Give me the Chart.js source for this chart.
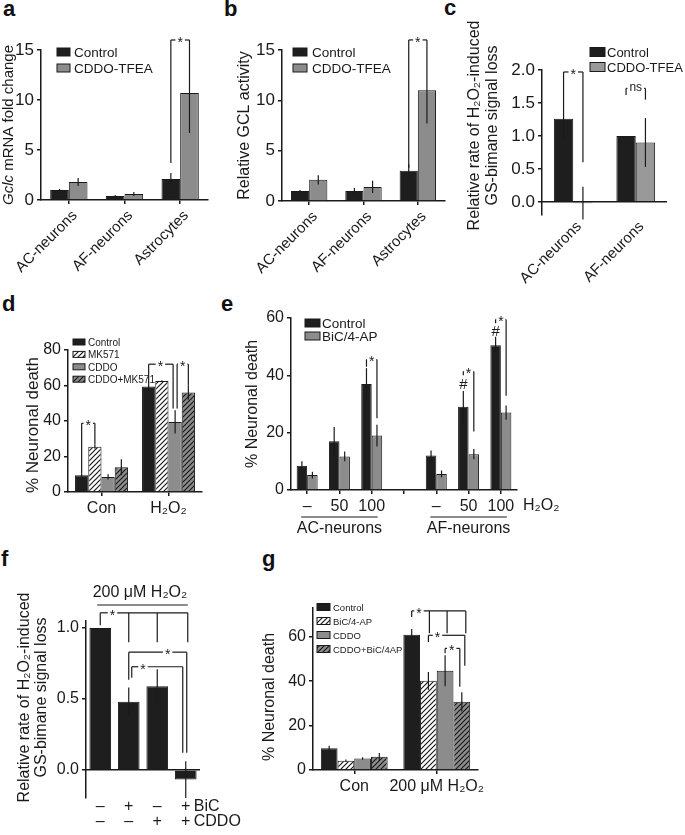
<!DOCTYPE html>
<html>
<head>
<meta charset="utf-8">
<script src="https://cdn.jsdelivr.net/npm/chart.js@4.4.1/dist/chart.umd.min.js"></script>
<style>
  body { margin: 0; background: #fff; font-family: "Liberation Sans", Arial, sans-serif; }
  #page { position: relative; width: 685px; height: 835px; overflow: hidden; }
  canvas { position: absolute; }
  .tag { position: absolute; font-weight: bold; font-size: 22px; line-height: 22px; color: #111; }
</style>
</head>
<body>
<div id="page">
  <div class="tag" style="left:3px;top:-2px">a</div>
  <div class="tag" style="left:224px;top:-2px">b</div>
  <div class="tag" style="left:444px;top:-3px">c</div>
  <div class="tag" style="left:2px;top:293px">d</div>
  <div class="tag" style="left:221px;top:293px">e</div>
  <div class="tag" style="left:1px;top:548px">f</div>
  <div class="tag" style="left:262px;top:548px">g</div>
  <canvas id="ca"></canvas>
  <canvas id="cb"></canvas>
  <canvas id="cc"></canvas>
  <canvas id="cd"></canvas>
  <canvas id="ce"></canvas>
  <canvas id="cf"></canvas>
  <canvas id="cg"></canvas>
</div>
<script>
// ---- data ----
// a: Gclc mRNA fold change
const cellTypes = ["AC-neurons", "AF-neurons", "Astrocytes"];
const mrnaControl = [1.0, 0.4, 2.1];
const mrnaControlErr = [0.1, 0.1, 0.6];
const mrnaCddo = [1.8, 0.6, 10.7];
const mrnaCddoErr = [0.4, 0.2, 4.0];

// b: relative GCL activity
const gclControl = [1.0, 1.0, 3.0];
const gclControlErr = [0.1, 0.3, 0.65];
const gclCddo = [2.1, 1.4, 11.0];
const gclCddoErr = [0.45, 0.6, 3.3];

// c: H2O2-induced GS-bimane signal loss in neurons
const neuronTypes = ["AC-neurons", "AF-neurons"];
const lossControl = [1.26, 1.0];
const lossControlErr = [0.3, 0];
const lossCddo = [-0.02, 0.9];
const lossCddoErr = [0.25, 0.37];
const lossTicks = [0, 0.5, 1.0, 1.5, 2.0];

// d: neuronal death with MK571
const dConditions = ["Con", "H₂O₂"];
const dControl = [9.5, 59.5];
const dControlErr = [1, 2.5];
const dMk = [25.5, 62.5];
const dMkErr = [1.2, 0.5];
const dCddo = [8.5, 39.5];
const dCddoErr = [1.5, 6.5];
const dCddoMk = [14, 56];
const dCddoMkErr = [4.5, 4];

// e: neuronal death vs H2O2 dose
const eDoses = ["–", "50", "100", "", "–", "50", "100"];
const eGroups = [["AC-neurons", 0, 2], ["AF-neurons", 4, 6]];
const eControl = [8.5, 17, 37, null, 12, 29, 50.5];
const eControlErr = [1.5, 5, 5.5, null, 1.75, 5.5, 3];
const eBic = [5.2, 11.7, 19, null, 5.6, 12.5, 27];
const eBicErr = [1.2, 1.7, 3.8, null, 1.2, 1.8, 2.5];
const eMarks = [[5, 0, 36.6, "#"], [6, 0, 55.2, "#"]];

// f: signal loss at 200 uM H2O2
const fBic = ["–", "+", "–", "+"];
const fCddo = ["–", "–", "+", "+"];
const fLoss = [1.0, 0.48, 0.59, -0.07];
const fLossErr = [0, 0.1, 0.12, 0.13];
const fTicks = [0, 0.5, 1.0];

// g: neuronal death with BiC/4-AP
const gConditions = ["Con", "200 μM H₂O₂"];
const gControl = [9.75, 61];
const gControlErr = [1.2, 2.5];
const gBic = [4.2, 40.2];
const gBicErr = [0.5, 4];
const gCddo = [5.2, 44.7];
const gCddoErr = [0.6, 7];
const gCddoBic = [6, 30.7];
const gCddoBicErr = [1.7, 4.3];

// significance brackets: drops are [category, dataset, value, dx]
const mrnaBrackets = [{ drops: [[2, 0, 3.7], [2, 1, 14.7]], top: 16, at: 0.5, text: "*" }];
const gclBrackets = [{ drops: [[2, 0, 3.3], [2, 1, 14.3]], top: 16, at: 0.5, text: "*" }];
const lossBrackets = [
  { drops: [[0, 0, 1.56], [0, 1, 0.6]], top: 1.97, at: 0.5, text: "*" },
  { drops: [[1, 0, 1.62], [1, 1, 1.55]], top: 1.72, at: 0.5, text: "ns" }
];
const dBrackets = [
  { drops: [[0, 0, 10.6], [0, 1, 26.7]], top: 38.7, at: 0.5, text: "*" },
  { drops: [[1, 0, 61.5], [1, 2, 47, -2]], top: 72, at: 0.48, text: "*" },
  { drops: [[1, 2, 47, 2], [1, 3, 60]], top: 72, at: 0.5, text: "*" }
];
const eBrackets = [
  { drops: [[2, 0, 43], [2, 1, 25]], top: 45.5, at: 0.5, text: "*" },
  { drops: [[5, 0, 40], [5, 1, 20.4]], top: 41.3, at: 0.5, text: "*" },
  { drops: [[6, 0, 58.2], [6, 1, 32.9]], top: 59.5, at: 0.5, text: "*" }
];
const fBrackets = [
  { drops: [[0, 0, 1.02], [1, 0, 0.9], [2, 0, 0.9], [3, 0, 0.9, 2]], top: 1.108, at: 0.14, text: "*" },
  { drops: [[1, 0, 0.635], [3, 0, 0.12, 1]], top: 0.83, at: 0.67, text: "*" },
  { drops: [[1, 0, 0.65, 3], [3, 0, 0.12, -3]], top: 0.727, at: 0.22, text: "*" }
];
const gBrackets = [
  { drops: [[1, 0, 69], [1, 1, 61.6, 1], [1, 2, 61.6, 2], [1, 3, 61.6, 4]], top: 71.7, at: 0.135, text: "*" },
  { drops: [[1, 1, 57.7], [1, 3, 47, 3]], top: 60.7, at: 0.25, text: "*" },
  { drops: [[1, 2, 52.6], [1, 3, 37.5, -2]], top: 54.8, at: 0.45, text: "*" }
];

// ---- styles ----
const face = "'Liberation Sans', Arial, sans-serif";
const ink = "#1a1a1a";
const black = "#1e1e1e";
const gray = "#8c8c8c";

// diagonal hatch fill
function hatch(bg) {
  const c = document.createElement("canvas");
  c.width = c.height = 5;
  const g = c.getContext("2d");
  g.fillStyle = bg;
  g.fillRect(0, 0, 5, 5);
  g.strokeStyle = ink;
  g.lineWidth = 1.2;
  g.beginPath();
  g.moveTo(0, 5); g.lineTo(5, 0);
  g.moveTo(-1, 1); g.lineTo(1, -1);
  g.moveTo(4, 6); g.lineTo(6, 4);
  g.stroke();
  return g.createPattern(c, "repeat");
}
const whiteHatch = hatch("#ffffff");
const grayHatch = hatch(gray);

function line(ctx, x0, y0, x1, y1) {
  ctx.beginPath();
  ctx.moveTo(x0, y0);
  ctx.lineTo(x1, y1);
  ctx.stroke();
}

// extra drawing for each canvas (error bars, brackets, legend, axis titles)
const extras = {};

const extraPlugin = {
  id: "extras",
  afterDatasetsDraw(chart) {
    const ex = extras[chart.canvas.id];
    if (!ex) return;
    const ctx = chart.ctx, y = chart.scales.y, area = chart.chartArea;
    ctx.save();
    ctx.strokeStyle = ink;
    ctx.fillStyle = ink;

    // x axis drawn at zero when the y range goes negative
    if (ex.zeroLine) {
      ctx.lineWidth = 1.5;
      const y0 = y.getPixelForValue(0);
      line(ctx, area.left, y0, area.right, y0);
    }

    // error bars
    ctx.lineWidth = 1.2;
    ex.errors.forEach((errs, d) => {
      const meta = chart.getDatasetMeta(d);
      chart.data.datasets[d].data.forEach((v, i) => {
        if (v == null || !errs[i]) return;
        const x = meta.data[i].x;
        line(ctx, x, y.getPixelForValue(v - errs[i]), x, y.getPixelForValue(v + errs[i]));
      });
    });

    // significance brackets
    (ex.brackets || []).forEach(b => {
      const xs = b.drops.map(([c, d, v, dx]) => chart.getDatasetMeta(d).data[c].x + (dx || 0));
      const top = y.getPixelForValue(b.top);
      b.drops.forEach(([c, d, v], k) => line(ctx, xs[k], y.getPixelForValue(v), xs[k], top));
      const x0 = xs[0], x1 = xs[xs.length - 1];
      const sx = x0 + (x1 - x0) * b.at;
      ctx.font = (b.text === "ns" ? "12px " : "14px ") + face;
      const gap = ctx.measureText(b.text).width / 2 + 2;
      line(ctx, x0, top, sx - gap, top);
      line(ctx, sx + gap, top, x1, top);
      ctx.textAlign = "center";
      ctx.textBaseline = "middle";
      ctx.fillText(b.text, sx, b.text === "ns" ? top - 1 : top + 3);
    });

    // legend
    if (ex.legend) {
      const L = ex.legend;
      ctx.font = L.size + "px " + face;
      ctx.textAlign = "left";
      ctx.textBaseline = "middle";
      ctx.lineWidth = 1;
      chart.data.datasets.forEach((ds, d) => {
        const bx = area.left + L.x, by = area.top + L.y + d * L.dy;
        ctx.fillStyle = ds.backgroundColor;
        ctx.fillRect(bx, by - L.h / 2, L.w, L.h);
        ctx.strokeRect(bx, by - L.h / 2, L.w, L.h);
        ctx.fillStyle = ink;
        ctx.fillText(ds.label, bx + L.w + L.gap, by + 1);
      });
    }

    // rotated y title (with italic parts)
    if (ex.title) {
      const T = ex.title;
      const cy = (area.top + area.bottom) / 2 + (T.dy || 0);
      T.lines.forEach(ln => {
        ctx.save();
        ctx.translate(area.left + ln.dx, cy);
        ctx.rotate(-Math.PI / 2);
        ctx.textAlign = "left";
        ctx.textBaseline = "middle";
        const fonts = ln.parts.map(p => (p[1] ? "italic " : "") + T.size + "px " + face);
        let w = 0;
        ln.parts.forEach((p, k) => { ctx.font = fonts[k]; w += ctx.measureText(p[0]).width; });
        let px = -w / 2;
        ln.parts.forEach((p, k) => {
          ctx.font = fonts[k];
          ctx.fillText(p[0], px, 0);
          px += ctx.measureText(p[0]).width;
        });
        ctx.restore();
      });
    }

    if (ex.draw) ex.draw(chart, ctx);
    ctx.restore();
  }
};

function bars(label, data, color, cat) {
  return {
    label, data,
    backgroundColor: color,
    borderColor: ink,
    borderWidth: 1,
    barPercentage: 1,
    categoryPercentage: cat
  };
}

function yAxis(min, max, size, width, tickValues, fmt) {
  return {
    min, max,
    afterFit: s => { s.width = width; },
    afterBuildTicks: s => { s.ticks = tickValues.map(v => ({ value: v })); },
    border: { color: ink, width: 1.5 },
    grid: { drawOnChartArea: false, drawTicks: true, tickLength: 4, color: ink, lineWidth: 1.5 },
    ticks: {
      color: ink, padding: 3,
      font: { size, family: face },
      callback: v => fmt ? v.toFixed(1) : v
    }
  };
}

function xAxis(height, size, rotation, showAxis, showLabels) {
  return {
    type: "category",
    offset: true,
    afterFit: s => { s.height = height; },
    border: { display: showAxis, color: ink, width: 1.5 },
    grid: { drawOnChartArea: false, drawTicks: showAxis, offset: false, tickLength: 4, color: ink, lineWidth: 1.5 },
    ticks: {
      display: showLabels,
      color: ink, padding: 3, autoSkip: false,
      maxRotation: rotation, minRotation: rotation,
      labelOffset: rotation ? 6 : 0,
      font: { size, family: face }
    }
  };
}

// box = [left, top, width, height] on the page; pad = [top, right]
function makeChart(id, box, pad, labels, datasets, x, y) {
  const cv = document.getElementById(id);
  cv.width = box[2];
  cv.height = box[3];
  cv.style.left = box[0] + "px";
  cv.style.top = box[1] + "px";
  return new Chart(cv, {
    type: "bar",
    data: { labels, datasets },
    options: {
      responsive: false,
      animation: false,
      devicePixelRatio: 1,
      layout: { padding: { left: 0, top: pad[0], right: pad[1], bottom: 0 } },
      plugins: { legend: { display: false }, tooltip: { enabled: false } },
      scales: { x, y }
    },
    plugins: [extraPlugin]
  });
}

// ---- panel a ----
extras.ca = {
  errors: [mrnaControlErr, mrnaCddoErr],
  brackets: mrnaBrackets,
  legend: { x: 16, y: 2, dy: 16, w: 13, h: 8, gap: 4, size: 13.5 },
  title: { size: 15, lines: [{ dx: -32, parts: [["Gclc", true], [" mRNA fold change", false]] }] }
};
makeChart("ca", [0, 30, 215, 258], [20, 7], cellTypes,
  [bars("Control", mrnaControl, black, 0.67), bars("CDDO-TFEA", mrnaCddo, gray, 0.67)],
  xAxis(88, 15, 45, true, true),
  yAxis(0, 15, 17, 41, [0, 5, 10, 15], false));

// ---- panel b ----
extras.cb = {
  errors: [gclControlErr, gclCddoErr],
  brackets: gclBrackets,
  legend: { x: 11, y: 2, dy: 16, w: 14, h: 8, gap: 5, size: 13.5 },
  title: { size: 16, lines: [{ dx: -37, parts: [["Relative GCL activity", false]] }] }
};
makeChart("cb", [222, 30, 230, 258], [20, 7], cellTypes,
  [bars("Control", gclControl, black, 0.67), bars("CDDO-TFEA", gclCddo, gray, 0.67)],
  xAxis(87, 15, 45, true, true),
  yAxis(0, 15, 17, 60, [0, 5, 10, 15], false));

// ---- panel c ----
extras.cc = {
  zeroLine: true,
  errors: [lossControlErr, lossCddoErr],
  brackets: lossBrackets,
  legend: { x: 48, y: -18, dy: 15, w: 15, h: 9, gap: 2, size: 13 },
  title: {
    size: 16, dy: -17,
    lines: [
      { dx: -67, parts: [["Relative rate of H₂O₂-induced", false]] },
      { dx: -49, parts: [["GS-bimane signal loss", false]] }
    ]
  }
};
makeChart("cc", [452, 15, 233, 273], [55, 18], neuronTypes,
  [bars("Control", lossControl, black, 0.62), bars("CDDO-TFEA", lossCddo, "#999999", 0.62)],
  xAxis(73, 15, 45, false, true),
  yAxis(-0.2, 2.0, 17, 90, lossTicks, true));

// ---- panel d ----
extras.cd = {
  errors: [dControlErr, dMkErr, dCddoErr, dCddoMkErr],
  brackets: dBrackets,
  legend: { x: 5, y: -8, dy: 12.4, w: 12, h: 6, gap: 3, size: 10 },
  title: { size: 17, dy: 4, lines: [{ dx: -35, parts: [["% Neuronal death", false]] }] }
};
makeChart("cd", [0, 290, 215, 240], [60, 13], dConditions,
  [bars("Control", dControl, black, 0.79), bars("MK571", dMk, whiteHatch, 0.79),
   bars("CDDO", dCddo, gray, 0.79), bars("CDDO+MK571", dCddoMk, grayHatch, 0.79)],
  xAxis(38, 16, 0, true, true),
  yAxis(0, 80, 16, 68, [0, 20, 40, 60, 80], false));

// ---- panel e ----
extras.ce = {
  errors: [eControlErr, eBicErr],
  brackets: eBrackets,
  legend: { x: 14, y: 5, dy: 13, w: 15, h: 8, gap: 2, size: 13.5 },
  title: { size: 16, lines: [{ dx: -38, parts: [["% Neuronal death", false]] }] },
  draw(chart, ctx) {
    const x = chart.scales.x, y = chart.scales.y, a = chart.chartArea;
    ctx.lineWidth = 1.2;
    ctx.font = "16px " + face;
    ctx.textAlign = "left";
    ctx.textBaseline = "middle";
    ctx.fillText("H₂O₂", a.right + 6, a.bottom + 16);
    ctx.textAlign = "center";
    eGroups.forEach(([name, i0, i1]) => {
      const x0 = x.getPixelForTick(i0) - 6, x1 = x.getPixelForTick(i1) + 6;
      line(ctx, x0, a.bottom + 27, x1, a.bottom + 27);
      ctx.fillText(name, (x0 + x1) / 2, a.bottom + 39);
    });
    ctx.font = "15px " + face;
    eMarks.forEach(([c, d, v, t]) => {
      ctx.fillText(t, chart.getDatasetMeta(d).data[c].x, y.getPixelForValue(v));
    });
  }
};
makeChart("ce", [222, 290, 463, 250], [28, 168], eDoses,
  [bars("Control", eControl, black, 0.65), bars("BiC/4-AP", eBic, gray, 0.65)],
  xAxis(50, 16, 0, true, true),
  yAxis(0, 60, 16, 69, [0, 20, 40, 60], false));

// ---- panel f ----
extras.cf = {
  zeroLine: true,
  errors: [fLossErr],
  brackets: fBrackets,
  title: {
    size: 16, dy: -12,
    lines: [
      { dx: -61, parts: [["Relative rate of H₂O₂-induced", false]] },
      { dx: -44, parts: [["GS-bimane signal loss", false]] }
    ]
  },
  draw(chart, ctx) {
    const x = chart.scales.x, a = chart.chartArea;
    ctx.lineWidth = 1.2;
    ctx.font = "16px " + face;
    ctx.textAlign = "center";
    ctx.textBaseline = "middle";
    ctx.fillText("200 μM H₂O₂", (a.left + a.right) / 2 - 3, a.top - 28);
    line(ctx, x.getPixelForTick(0) - 3, a.top - 16, x.getPixelForTick(3) + 2, a.top - 16);
    fBic.forEach((t, i) => ctx.fillText(t, x.getPixelForTick(i), a.bottom + 9));
    fCddo.forEach((t, i) => ctx.fillText(t, x.getPixelForTick(i), a.bottom + 24));
    ctx.textAlign = "left";
    ctx.fillText("BiC", x.getPixelForTick(3) + 8, a.bottom + 9);
    ctx.fillText("CDDO", x.getPixelForTick(3) + 8, a.bottom + 24);
  }
};
makeChart("cf", [0, 545, 245, 290], [76, 45], fBic.map((b, i) => b + "/" + fCddo[i]),
  [bars("Signal loss", fLoss, black, 0.76)],
  xAxis(37, 16, 0, false, false),
  yAxis(-0.2, 1.05, 16, 86, fTicks, true));

// ---- panel g ----
extras.cg = {
  errors: [gControlErr, gBicErr, gCddoErr, gCddoBicErr],
  brackets: gBrackets,
  legend: { x: 4, y: -1, dy: 14, w: 13, h: 7, gap: 3, size: 9.5 },
  title: { size: 16, dy: 8, lines: [{ dx: -43, parts: [["% Neuronal death", false]] }] }
};
makeChart("cg", [245, 545, 255, 290], [63, 22], gConditions,
  [bars("Control", gControl, black, 0.81), bars("BiC/4-AP", gBic, whiteHatch, 0.81),
   bars("CDDO", gCddo, gray, 0.81), bars("CDDO+BiC/4AP", gCddoBic, grayHatch, 0.81)],
  xAxis(65, 16, 0, true, true),
  yAxis(0, 73, 16, 68, [0, 20, 40, 60], false));
</script>
</body>
</html>
